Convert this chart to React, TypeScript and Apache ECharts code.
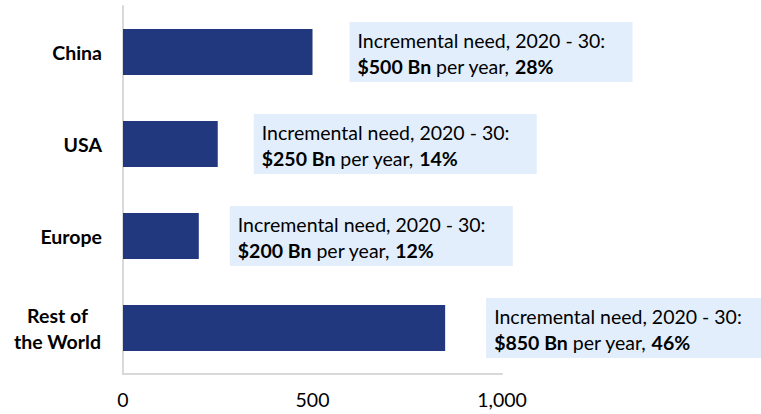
import React, { useEffect, useRef } from "react";
import * as echarts from "echarts";

const categories = ["China", "USA", "Europe", "Rest of\nthe World"];
const needBn = [500, 250, 200, 850];
const sharePct = [28, 14, 12, 46];
const xTicks = [0, 500, 1000];

// layout: horizontal gap (px) between bar end and its annotation box
const annotationGap = [37, 36, 31, 41];

const FONT = "Lato, 'Noto Sans', sans-serif";
const FS = 19.5;

export default function App() {
  const ref = useRef<HTMLDivElement>(null);
  useEffect(() => {
    if (!ref.current) return;
    const chart = echarts.init(ref.current, null, { renderer: "svg" });
    const data = needBn.map((v, i) => ({
      value: v,
      label: {
        distance: annotationGap[i],
        formatter: `Incremental need, 2020 - 30:\n{b|$${v} Bn}{n| per year, }{b|${sharePct[i]}%}`,
      },
    }));
    chart.setOption({
      animation: false,
      grid: {
        left: 123,
        right: 259,
        top: 6,
        bottom: 40,
        containLabel: false,
        outerBoundsMode: "none",
      },
      xAxis: {
        type: "value",
        min: xTicks[0],
        max: xTicks[xTicks.length - 1],
        interval: xTicks[1] - xTicks[0],
        axisLine: { show: true, lineStyle: { color: "#d9d9d9", width: 2 } },
        axisTick: { show: false },
        splitLine: { show: false },
        axisLabel: {
          color: "#000",
          fontFamily: FONT,
          fontSize: FS,
          margin: 15,
          formatter: (v: number) => v.toLocaleString("en-US"),
        },
      },
      yAxis: {
        type: "category",
        inverse: true,
        data: categories,
        axisLine: { show: true, lineStyle: { color: "#d9d9d9", width: 2 } },
        axisTick: { show: false },
        axisLabel: {
          color: "#000",
          fontFamily: FONT,
          fontSize: FS,
          fontWeight: "bold",
          lineHeight: 26,
          align: "right",
          margin: 21,
          formatter: (v: string) =>
            v.includes("\n") ? v.split("\n").map((s) => `{c|${s}}`).join("\n") : v,
          rich: {
            c: {
              width: 89,
              align: "center",
              fontFamily: FONT,
              fontSize: FS,
              fontWeight: "bold",
              lineHeight: 26,
              color: "#000",
            },
          },
        },
      },
      series: [
        {
          type: "bar",
          data,
          barWidth: "50%",
          itemStyle: { color: "#21387f" },
          label: {
            show: true,
            position: "right",
            backgroundColor: "#e2eefc",
            padding: [5, 8, 3, 8],
            width: 267,
            align: "left",
            color: "#000",
            fontFamily: FONT,
            fontSize: FS,
            lineHeight: 26,
            rich: {
              b: { fontWeight: "bold", fontFamily: FONT, fontSize: FS, lineHeight: 26, color: "#000" },
              n: { fontFamily: FONT, fontSize: FS, lineHeight: 26, color: "#000" },
            },
          },
        },
      ],
    });
    return () => chart.dispose();
  }, []);
  return <div ref={ref} style={{ width: 761, height: 414, position: "absolute", left: 0, top: 0 }} />;
}
